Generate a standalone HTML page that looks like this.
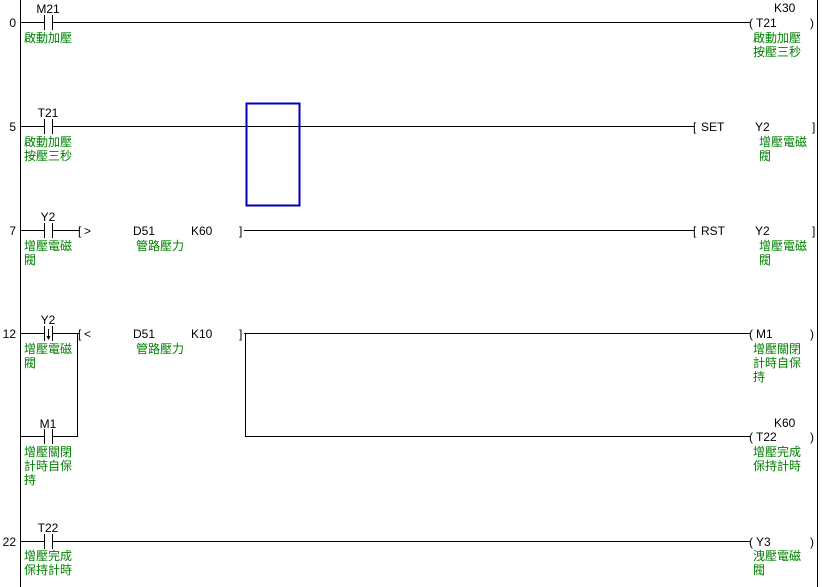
<!DOCTYPE html>
<html><head><meta charset="utf-8"><style>
html,body{margin:0;padding:0;background:#fff;}
svg{display:block}
text{font-family:"Liberation Sans","Noto Sans CJK TC",sans-serif;font-size:12px;fill:#000}
.g{fill:#008000}
</style></head><body>
<svg width="824" height="587" xmlns="http://www.w3.org/2000/svg">
<g stroke="#000" stroke-width="1" fill="none" shape-rendering="crispEdges">
<line x1="20.5" y1="0" x2="20.5" y2="587"/>
<line x1="817.5" y1="0" x2="817.5" y2="587"/>
<line x1="20" y1="22.5" x2="44" y2="22.5"/><line x1="52" y1="22.5" x2="750" y2="22.5"/>
<line x1="44.5" y1="15" x2="44.5" y2="30"/><line x1="52.5" y1="15" x2="52.5" y2="30"/>
<line x1="20" y1="126.5" x2="44" y2="126.5"/><line x1="52" y1="126.5" x2="694" y2="126.5"/>
<line x1="44.5" y1="119" x2="44.5" y2="134"/><line x1="52.5" y1="119" x2="52.5" y2="134"/>
<line x1="20" y1="230.5" x2="44" y2="230.5"/><line x1="52" y1="230.5" x2="80" y2="230.5"/>
<line x1="44.5" y1="223" x2="44.5" y2="238"/><line x1="52.5" y1="223" x2="52.5" y2="238"/>
<line x1="244" y1="230.5" x2="694" y2="230.5"/>
<line x1="20" y1="333.5" x2="44" y2="333.5"/><line x1="52" y1="333.5" x2="80" y2="333.5"/>
<line x1="44.5" y1="326" x2="44.5" y2="341"/><line x1="52.5" y1="326" x2="52.5" y2="341"/>
<line x1="48.5" y1="329" x2="48.5" y2="339"/>
<line x1="77.5" y1="333" x2="77.5" y2="437"/>
<line x1="20" y1="436.5" x2="44" y2="436.5"/><line x1="52" y1="436.5" x2="78" y2="436.5"/>
<line x1="44.5" y1="429" x2="44.5" y2="444"/><line x1="52.5" y1="429" x2="52.5" y2="444"/>
<line x1="244" y1="333.5" x2="750" y2="333.5"/>
<line x1="245.5" y1="333" x2="245.5" y2="437"/>
<line x1="245" y1="436.5" x2="750" y2="436.5"/>
<line x1="20" y1="541.5" x2="44" y2="541.5"/><line x1="52" y1="541.5" x2="750" y2="541.5"/>
<line x1="44.5" y1="534" x2="44.5" y2="549"/><line x1="52.5" y1="534" x2="52.5" y2="549"/>
</g>
<path d="M46.5 336 L48.5 340 L50.5 336 Z" fill="#000"/>
<rect x="246.5" y="103.5" width="53" height="102" fill="none" stroke="#0000b0" stroke-width="2"/>
<text x="16" y="27" text-anchor="end">0</text>
<text x="16" y="131" text-anchor="end">5</text>
<text x="16" y="235" text-anchor="end">7</text>
<text x="16" y="338" text-anchor="end">12</text>
<text x="16" y="546" text-anchor="end">22</text>
<text x="48" y="13" text-anchor="middle">M21</text>
<text x="24" y="42" class="g">啟動加壓</text>
<text x="48" y="117" text-anchor="middle">T21</text>
<text x="24" y="146" class="g">啟動加壓</text><text x="24" y="160" class="g">按壓三秒</text>
<text x="48" y="221" text-anchor="middle">Y2</text>
<text x="24" y="250" class="g">增壓電磁</text><text x="24" y="264" class="g">閥</text>
<text x="48" y="324" text-anchor="middle">Y2</text>
<text x="24" y="353" class="g">增壓電磁</text><text x="24" y="367" class="g">閥</text>
<text x="48" y="428" text-anchor="middle">M1</text>
<text x="24" y="456" class="g">增壓關閉</text><text x="24" y="470" class="g">計時自保</text><text x="24" y="484" class="g">持</text>
<text x="48" y="532" text-anchor="middle">T22</text>
<text x="24" y="560" class="g">增壓完成</text><text x="24" y="574" class="g">保持計時</text>
<text x="78" y="235">[</text><text x="84" y="235">&gt;</text><text x="133" y="235">D51</text><text x="191" y="235">K60</text><text x="239" y="235">]</text>
<text x="136" y="250" class="g">管路壓力</text>
<text x="78" y="338">[</text><text x="84" y="338">&lt;</text><text x="133" y="338">D51</text><text x="191" y="338">K10</text><text x="239" y="338">]</text>
<text x="136" y="353" class="g">管路壓力</text>
<text x="774" y="12">K30</text>
<text x="749" y="27">(</text><text x="756" y="27">T21</text><text x="810" y="27">)</text>
<text x="753" y="42" class="g">啟動加壓</text><text x="753" y="56" class="g">按壓三秒</text>
<text x="693" y="131">[</text><text x="701" y="131">SET</text><text x="755" y="131">Y2</text><text x="812" y="131">]</text>
<text x="759" y="146" class="g">增壓電磁</text><text x="759" y="160" class="g">閥</text>
<text x="693" y="235">[</text><text x="701" y="235">RST</text><text x="755" y="235">Y2</text><text x="812" y="235">]</text>
<text x="759" y="250" class="g">增壓電磁</text><text x="759" y="264" class="g">閥</text>
<text x="749" y="338">(</text><text x="756" y="338">M1</text><text x="810" y="338">)</text>
<text x="753" y="353" class="g">增壓關閉</text><text x="753" y="367" class="g">計時自保</text><text x="753" y="381" class="g">持</text>
<text x="774" y="427">K60</text>
<text x="749" y="441">(</text><text x="756" y="441">T22</text><text x="810" y="441">)</text>
<text x="753" y="456" class="g">增壓完成</text><text x="753" y="470" class="g">保持計時</text>
<text x="749" y="546">(</text><text x="756" y="546">Y3</text><text x="810" y="546">)</text>
<text x="753" y="560" class="g">洩壓電磁</text><text x="753" y="574" class="g">閥</text>
</svg>
</body></html>
